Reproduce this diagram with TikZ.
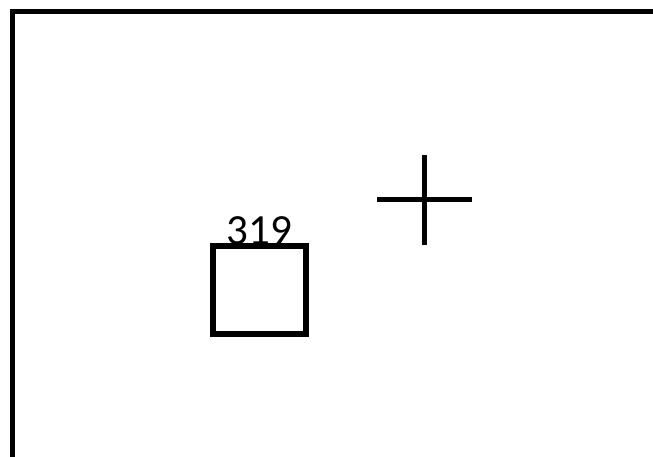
\documentclass[tikz,border=0pt]{standalone}
\usepackage{fontspec}
\setmainfont{Carlito}
\usetikzlibrary{positioning}

\begin{document}
\begin{tikzpicture}[x=1pt, y=-1pt]
    \tikzstyle{frame} = [draw=black, line width=5pt]
    \tikzstyle{target} = [rectangle, draw=black, line width=5.5pt, minimum width=93pt, minimum height=88pt, inner sep=0pt]
    \tikzstyle{tag} = [font=\fontsize{43}{43}\selectfont, inner sep=0pt, anchor=base]
    \tikzstyle{crosshair} = [draw=black, line width=5pt]

    \useasboundingbox (0,0) rectangle (653,457);

    % outer frame, running off the page at the right and bottom
    \draw [frame] (12,11.5) rectangle (700,459);

    % box with its number
    \node [target] (box) at (259.5,290) {};
    \node [tag] (num) at ([yshift=-1pt]box.north) {319};

    % cross
    \coordinate (aim) at (424.3,200);
    \draw [crosshair] ([xshift=-47.5pt]aim) -- ([xshift=47.5pt]aim);
    \draw [crosshair] ([yshift=45pt]aim) -- ([yshift=-45pt]aim);
\end{tikzpicture}
\end{document}
